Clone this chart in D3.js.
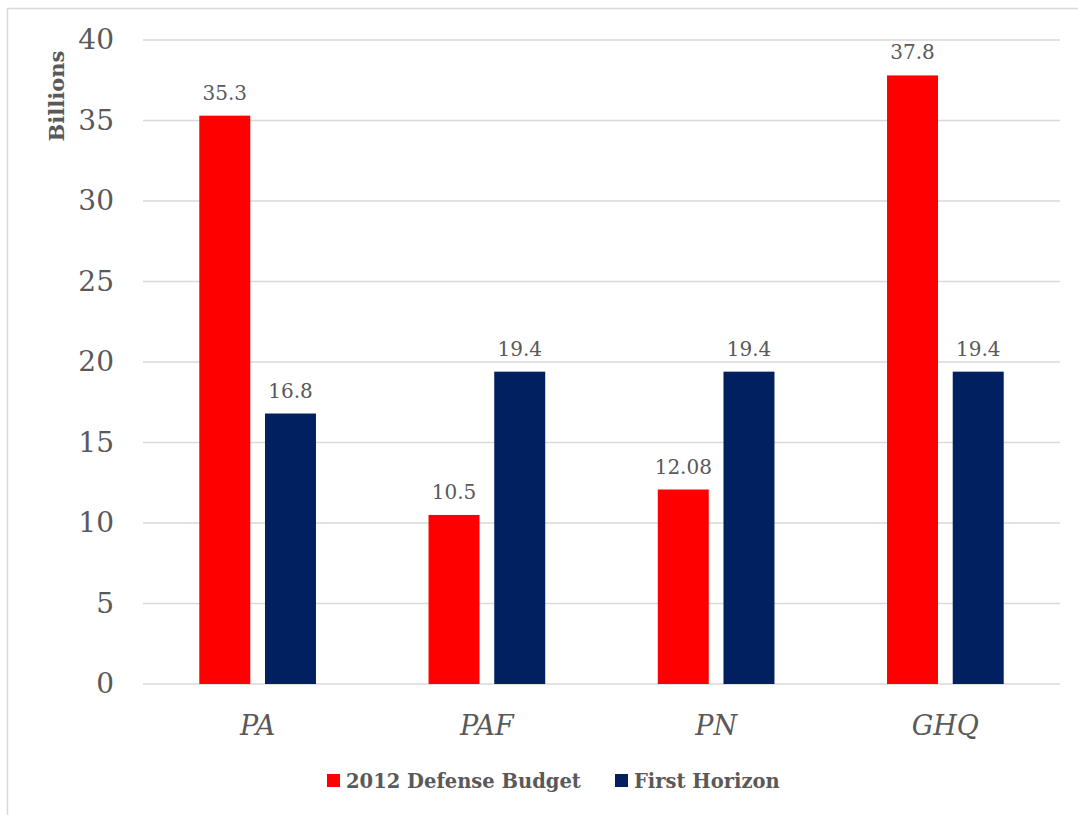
<!DOCTYPE html>
<html>
<head>
<meta charset="utf-8">
<script src="https://cdn.jsdelivr.net/npm/d3@7"></script>
<style>
  html, body { margin: 0; padding: 0; background: #fff; }
  svg { display: block; }
  text { font-family: "DejaVu Serif", "Liberation Serif", serif; fill: #595959; }
</style>
</head>
<body>
<svg id="chart" width="1078" height="815"></svg>
<script>
// Budget by service branch, in billions
const categories = ["PA", "PAF", "PN", "GHQ"];
const seriesNames = ["2012 Defense Budget", "First Horizon"];
const budget2012 = [35.3, 10.5, 12.08, 37.8];
const firstHorizon = [16.8, 19.4, 19.4, 19.4];
const budgetLabels = ["35.3", "10.5", "12.08", "37.8"];
const horizonLabels = ["16.8", "19.4", "19.4", "19.4"];
const yTicks = [0, 5, 10, 15, 20, 25, 30, 35, 40];
const colors = ["#FF0000", "#002060"];

const svg = d3.select("#chart");
const plot = { left: 143, right: 1060, top: 40, bottom: 684 };

// outer chart frame
svg.append("rect")
  .attr("x", 7.5).attr("y", 8.5)
  .attr("width", 1200).attr("height", 1000)
  .attr("fill", "none").attr("stroke", "#d9d9d9").attr("stroke-width", 1.5);

const y = d3.scaleLinear().domain([0, 40]).range([plot.bottom, plot.top]);
const x0 = d3.scaleBand().domain(categories).range([plot.left, plot.right])
  .paddingInner(0.491).paddingOuter(0.2455);
const x1 = d3.scaleBand().domain(seriesNames).range([0, x0.bandwidth()])
  .paddingInner(0.224).paddingOuter(0);

// gridlines
svg.append("g")
  .selectAll("line")
  .data(yTicks)
  .join("line")
  .attr("x1", plot.left).attr("x2", plot.right)
  .attr("y1", d => y(d)).attr("y2", d => y(d))
  .attr("stroke", "#d9d9d9").attr("stroke-width", 1.5);

// y axis labels
const yAxis = svg.append("g")
  .attr("transform", `translate(${plot.left},0)`)
  .call(d3.axisLeft(y).tickValues(yTicks).tickSize(0).tickPadding(29));
yAxis.select(".domain").remove();
yAxis.selectAll("text")
  .attr("fill", "#595959")
  .style("font-family", "'DejaVu Serif', serif")
  .style("font-size", "28px");

// y axis title
svg.append("text")
  .attr("transform", "translate(64,96) rotate(-90)")
  .attr("text-anchor", "middle")
  .style("font-size", "21px")
  .style("font-weight", "bold")
  .text("Billions");

// x axis labels
const xAxis = svg.append("g")
  .attr("transform", `translate(0,${plot.bottom})`)
  .call(d3.axisBottom(x0).tickSize(0));
xAxis.select(".domain").remove();
xAxis.selectAll("text")
  .attr("y", 51).attr("dy", 0)
  .attr("fill", "#595959")
  .style("font-family", "'DejaVu Serif', serif")
  .style("font-style", "italic")
  .style("font-size", "27px");

// bars
const rows = categories.map((c, i) => ({
  cat: c,
  vals: [
    { s: seriesNames[0], v: budget2012[i], label: budgetLabels[i], color: colors[0] },
    { s: seriesNames[1], v: firstHorizon[i], label: horizonLabels[i], color: colors[1] }
  ]
}));

const groups = svg.append("g")
  .selectAll("g")
  .data(rows)
  .join("g")
  .attr("transform", d => `translate(${x0(d.cat)},0)`);

groups.selectAll("rect")
  .data(d => d.vals)
  .join("rect")
  .attr("x", d => x1(d.s))
  .attr("width", x1.bandwidth())
  .attr("y", d => y(d.v))
  .attr("height", d => y(0) - y(d.v))
  .attr("fill", d => d.color);

groups.selectAll("text")
  .data(d => d.vals)
  .join("text")
  .attr("x", d => x1(d.s) + x1.bandwidth() / 2)
  .attr("y", d => y(d.v) - 16)
  .attr("text-anchor", "middle")
  .style("font-size", "20px")
  .attr("fill", "#404040")
  .text(d => d.label);

// legend
const legendItems = [
  { name: seriesNames[0], color: colors[0], x: 327 },
  { name: seriesNames[1], color: colors[1], x: 615 }
];
const legend = svg.append("g");
legendItems.forEach(it => {
  legend.append("rect")
    .attr("x", it.x).attr("y", 774)
    .attr("width", 13).attr("height", 13)
    .attr("fill", it.color);
  legend.append("text")
    .attr("x", it.x + 19).attr("y", 788)
    .style("font-size", "19.5px")
    .style("font-weight", "bold")
    .text(it.name);
});
</script>
</body>
</html>
